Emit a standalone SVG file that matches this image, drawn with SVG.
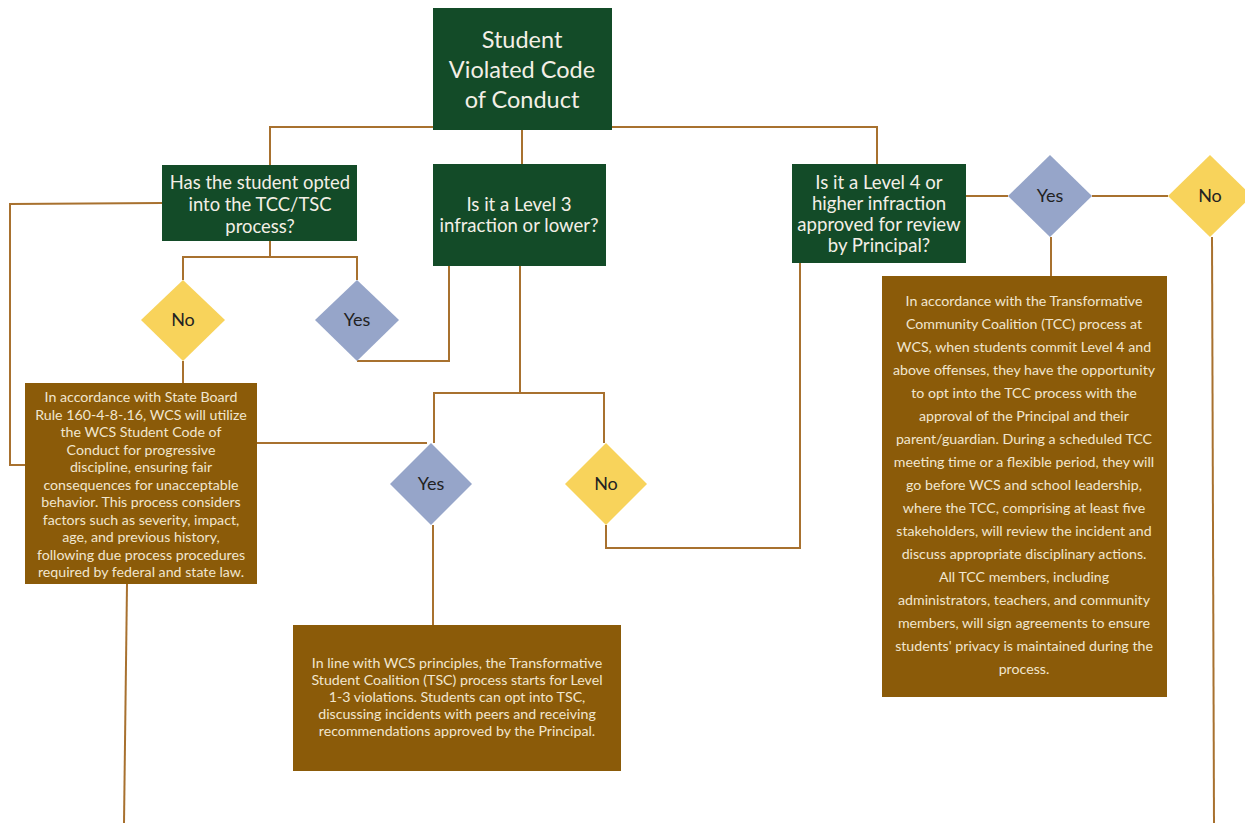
<svg xmlns="http://www.w3.org/2000/svg" width="1245" height="823" viewBox="0 0 1245 823">
<style>
.g{fill:#134b28}
.b{fill:#8b5b09}
.y{fill:#f8d35b}
.v{fill:#96a5c9}
.c{fill:none;stroke:#a8712f;stroke-width:2}
.tw{font-family:Lato,"Liberation Sans",sans-serif;fill:#f3efe6;text-anchor:middle}
.tb{font-family:Lato,"Liberation Sans",sans-serif;fill:#f1e6cf;text-anchor:middle;font-size:14.2px}
.td{font-family:Lato,"Liberation Sans",sans-serif;fill:#222;text-anchor:middle;font-size:18px}
</style>
<rect width="1245" height="823" fill="#fff"/>
<g id="connectors">
<polyline class="c" points="433,127 270,127 270,165"/>
<line class="c" x1="522" y1="130" x2="522" y2="164"/>
<polyline class="c" points="612,127 877,127 877,164"/>
<line class="c" x1="966" y1="196" x2="1008" y2="196"/>
<line class="c" x1="1092" y1="196" x2="1168" y2="196"/>
<line class="c" x1="1051" y1="237" x2="1051" y2="276"/>
<line class="c" x1="1212" y1="237" x2="1214" y2="823"/>
<polyline class="c" points="183,280 183,257 357,257 357,280"/>
<line class="c" x1="270" y1="241" x2="270" y2="257"/>
<polyline class="c" points="357,361 449,361 449,266"/>
<polyline class="c" points="520,266 520,393"/>
<polyline class="c" points="434,443 434,393 604,393 604,443"/>
<polyline class="c" points="606,525 606,548 800,548 800,263"/>
<polyline class="c" points="162,203 10,204 10,465 25,465"/>
<line class="c" x1="183" y1="361" x2="183" y2="383"/>
<line class="c" x1="257" y1="443" x2="427" y2="443"/>
<line class="c" x1="433" y1="525" x2="433" y2="625"/>
<line class="c" x1="127" y1="584" x2="124" y2="823"/>
</g>
<g id="start">
<rect class="g" x="433" y="8" width="179" height="122"/>
<text class="tw" font-size="23.5"><tspan x="522" y="48">Student</tspan><tspan x="522" y="78">Violated Code</tspan><tspan x="522" y="108">of Conduct</tspan></text>
</g>
<g id="q-opted">
<rect class="g" x="162" y="165" width="195" height="76"/>
<text class="tw" font-size="18.4"><tspan x="260" y="189">Has the student opted</tspan><tspan x="260" y="211">into the TCC/TSC</tspan><tspan x="260" y="233">process?</tspan></text>
</g>
<g id="q-level3">
<rect class="g" x="433" y="164" width="173" height="102"/>
<text class="tw" font-size="18.6"><tspan x="519" y="211">Is it a Level 3</tspan><tspan x="519" y="232">infraction or lower?</tspan></text>
</g>
<g id="q-level4">
<rect class="g" x="792" y="164" width="174" height="99"/>
<text class="tw" font-size="18.6"><tspan x="879" y="189">Is it a Level 4 or</tspan><tspan x="879" y="210">higher infraction</tspan><tspan x="879" y="231">approved for review</tspan><tspan x="879" y="252">by Principal?</tspan></text>
</g>
<g id="d-yes-l4">
<polygon class="v" points="1050,155 1092,196 1050,237 1008,196"/>
<text class="td" x="1050" y="202">Yes</text>
</g>
<g id="d-no-l4">
<polygon class="y" points="1210,155 1252,196 1210,237 1168,196"/>
<text class="td" x="1210" y="202">No</text>
</g>
<g id="d-no-opted">
<polygon class="y" points="183,280 225,320 183,361 141,320"/>
<text class="td" x="183" y="326">No</text>
</g>
<g id="d-yes-opted">
<polygon class="v" points="357,280 399,320 357,361 315,320"/>
<text class="td" x="357" y="326">Yes</text>
</g>
<g id="d-yes-l3">
<polygon class="v" points="431,443 472,484 431,525 390,484"/>
<text class="td" x="431" y="490">Yes</text>
</g>
<g id="d-no-l3">
<polygon class="y" points="606,443 647,484 606,525 565,484"/>
<text class="td" x="606" y="490">No</text>
</g>
<g id="state-board">
<rect class="b" x="25" y="383" width="232" height="201"/>
<text class="tb"><tspan x="141" y="402">In accordance with State Board</tspan><tspan x="141" y="419.5">Rule 160-4-8-.16, WCS will utilize</tspan><tspan x="141" y="437">the WCS Student Code of</tspan><tspan x="141" y="454.5">Conduct for progressive</tspan><tspan x="141" y="472">discipline, ensuring fair</tspan><tspan x="141" y="489.5">consequences for unacceptable</tspan><tspan x="141" y="507">behavior. This process considers</tspan><tspan x="141" y="524.5">factors such as severity, impact,</tspan><tspan x="141" y="542">age, and previous history,</tspan><tspan x="141" y="559.5">following due process procedures</tspan><tspan x="141" y="577">required by federal and state law.</tspan></text>
</g>
<g id="tsc">
<rect class="b" x="293" y="625" width="328" height="146"/>
<text class="tb"><tspan x="457" y="668">In line with WCS principles, the Transformative</tspan><tspan x="457" y="685">Student Coalition (TSC) process starts for Level</tspan><tspan x="457" y="702">1-3 violations. Students can opt into TSC,</tspan><tspan x="457" y="719">discussing incidents with peers and receiving</tspan><tspan x="457" y="736">recommendations approved by the Principal.</tspan></text>
</g>
<g id="tcc">
<rect class="b" x="882" y="276" width="285" height="421"/>
<text class="tb" font-size="14.7"><tspan x="1024" y="306">In accordance with the Transformative</tspan><tspan x="1024" y="329">Community Coalition (TCC) process at</tspan><tspan x="1024" y="352">WCS, when students commit Level 4 and</tspan><tspan x="1024" y="375">above offenses, they have the opportunity</tspan><tspan x="1024" y="398">to opt into the TCC process with the</tspan><tspan x="1024" y="421">approval of the Principal and their</tspan><tspan x="1024" y="444">parent/guardian. During a scheduled TCC</tspan><tspan x="1024" y="467">meeting time or a flexible period, they will</tspan><tspan x="1024" y="490">go before WCS and school leadership,</tspan><tspan x="1024" y="513">where the TCC, comprising at least five</tspan><tspan x="1024" y="536">stakeholders, will review the incident and</tspan><tspan x="1024" y="559">discuss appropriate disciplinary actions.</tspan><tspan x="1024" y="582">All TCC members, including</tspan><tspan x="1024" y="605">administrators, teachers, and community</tspan><tspan x="1024" y="628">members, will sign agreements to ensure</tspan><tspan x="1024" y="651">students' privacy is maintained during the</tspan><tspan x="1024" y="674">process.</tspan></text>
</g>
</svg>
